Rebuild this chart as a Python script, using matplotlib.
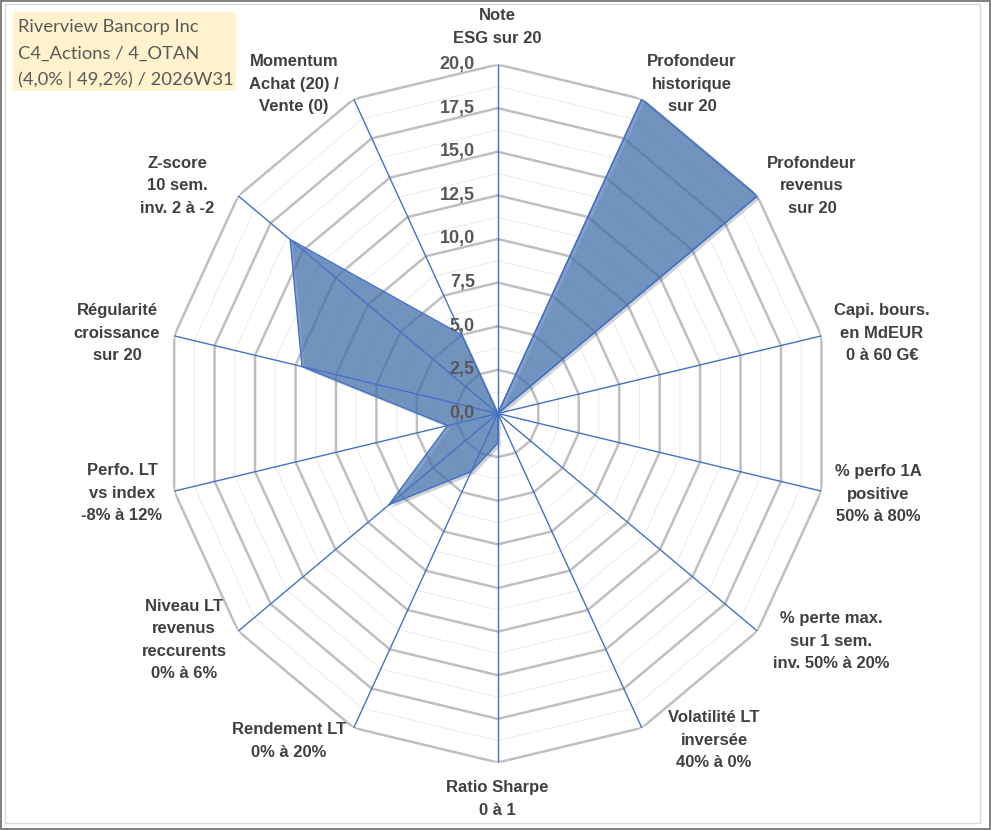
import numpy as np
import matplotlib
matplotlib.use("Agg")
import matplotlib.pyplot as plt
from matplotlib.patches import Rectangle
import matplotlib.patheffects as pe

# ---------------- data ----------------
categories = [
    "Note\nESG sur 20",
    "Profondeur\nhistorique\nsur 20",
    "Profondeur\nrevenus\nsur 20",
    "Capi. bours.\nen MdEUR\n0 à 60 G€",
    "% perfo 1A\npositive\n50% à 80%",
    "% perte max.\nsur 1 sem.\ninv. 50% à 20%",
    "Volatilité LT\ninversée\n40% à 0%",
    "Ratio Sharpe\n0 à 1",
    "Rendement LT\n0% à 20%",
    "Niveau LT\nrevenus\nreccurents\n0% à 6%",
    "Perfo. LT\nvs index\n-8% à 12%",
    "Régularité\ncroissance\nsur 20",
    "Z-score\n10 sem.\ninv. 2 à -2",
    "Momentum\nAchat (20) /\nVente (0)",
]
values = [0, 20, 20, 0, 0, 0, 0, 1.7, 3.7, 8.4, 3.1, 12.1, 16.0, 5.0]
r_ticks = [0, 2.5, 5, 7.5, 10, 12.5, 15, 17.5, 20]
tick_labels = ["0,0", "2,5", "5,0", "7,5", "10,0", "12,5", "15,0", "17,5", "20,0"]
title_lines = ["Riverview Bancorp Inc", "C4_Actions / 4_OTAN", "(4,0% | 49,2%) / 2026W31"]

# ---------------- layout ----------------
W, H = 991, 830
fig = plt.figure(figsize=(W / 100, H / 100), dpi=100)
fig.patch.set_facecolor("white")

cx, cy, rx, ry = 497.8, 413.5, 332, 349
ax = fig.add_axes([(cx - rx) / W, (H - cy - ry) / H, 2 * rx / W, 2 * ry / H],
                  projection="polar")
ax.set_aspect("auto")
ax.set_theta_offset(np.pi / 2)
ax.set_theta_direction(-1)
ax.set_ylim(0, r_ticks[-1])
ax.set_xticks([])
ax.set_yticks([])
ax.grid(False)
ax.spines["polar"].set_visible(False)
ax.set_facecolor("none")

N = len(categories)
theta = np.linspace(0, 2 * np.pi, N, endpoint=False)
theta_c = np.append(theta, theta[0])

# rings: major at ticks, minor halfway
for i, r in enumerate(r_ticks[1:]):
    rm = (r_ticks[i] + r) / 2
    ax.plot(theta_c, [rm] * (N + 1), color="#EBEBEB", lw=0.7, zorder=1)
    ax.plot(theta_c, [r] * (N + 1), color="#BFBFBF", lw=1.8, zorder=1,
            solid_joinstyle="miter")

# spokes
for t in theta:
    ax.plot([t, t], [0, r_ticks[-1]], color="#4472C4", lw=1.0, zorder=3)

# series
vals_c = values + values[:1]
ax.fill(theta_c, vals_c, facecolor="#4A78B5", alpha=0.70, zorder=2,
        edgecolor="none",
        path_effects=[pe.SimplePatchShadow(offset=(2, -2), alpha=0.2), pe.Normal()])
ax.plot(theta_c, vals_c, color="#4472C4", lw=1.0, zorder=2.5)

# radial tick labels
for r, lab in zip(r_ticks, tick_labels):
    ax.annotate(lab, xy=(0, r), xytext=(-23, 0), textcoords="offset pixels",
                ha="right", va="center", fontsize=13, fontweight="bold",
                color="#595959", family="Liberation Sans", zorder=5)

# category labels (pixel centres)
label_xy = [(497, 27), (692, 84), (812, 186), (882, 333), (878, 494), (831, 641),
            (714, 740), (497, 799), (289, 741), (184, 640), (122, 493), (117, 333),
            (177, 186), (294, 84)]
for lab, (x, y) in zip(categories, label_xy):
    fig.text(x / W, 1 - y / H, lab, ha="center", va="center", multialignment="center",
             fontsize=12, fontweight="bold", color="#404040", family="Liberation Sans",
             linespacing=1.6)

# title box
fig.patches.append(Rectangle((12.7 / W, 1 - 91 / H), 223 / W, 79.3 / H,
                             transform=fig.transFigure, facecolor="#FFF2CC",
                             edgecolor="none", zorder=0))
for i, line in enumerate(title_lines):
    fig.text(18.5 / W, 1 - (27 + 26.3 * i) / H, line, ha="left", va="center",
             fontsize=13.2, color="#595959", family="Lato")

# borders
fig.patches.append(Rectangle((5 / W, 1 - 823 / H), 975 / W, 819 / H,
                             transform=fig.transFigure, facecolor="none",
                             edgecolor="#D9D9D9", lw=1.0))
fig.patches.append(Rectangle((0.6 / W, 0.6 / H), (W - 1.6) / W, (H - 1.6) / H,
                             transform=fig.transFigure, facecolor="none",
                             edgecolor="#7F7F7F", lw=1.4))

fig.savefig("out.png", dpi=100)
